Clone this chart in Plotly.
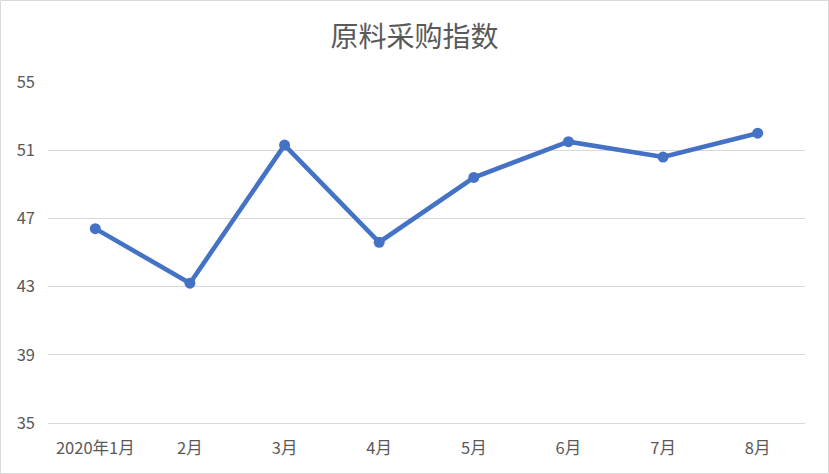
import plotly.graph_objects as go

categories = ["2020年1月", "2月", "3月", "4月", "5月", "6月", "7月", "8月"]
values = [46.4, 43.2, 51.3, 45.6, 49.4, 51.5, 50.6, 52.0]
y_ticks = [35, 39, 43, 47, 51, 55]
title_text = "原料采购指数"

W, H = 829, 474
ml, mr, mt, mb = 48, 24, 82, 51
pw, ph = W - ml - mr, H - mt - mb

fig = go.Figure()
fig.add_trace(go.Scatter(
    x=categories, y=values, mode="lines+markers",
    line=dict(color="#4472C4", width=4.6),
    marker=dict(color="#4472C4", size=11),
    showlegend=False, hoverinfo="x+y",
))

font_family = "Noto Sans CJK SC, Noto Sans, sans-serif"
fig.update_layout(
    width=W, height=H,
    margin=dict(l=ml, r=mr, t=mt, b=mb),
    paper_bgcolor="white", plot_bgcolor="white",
    title=dict(text=title_text, x=0.5, xanchor="center", y=1 - 37 / H, yanchor="middle",
               font=dict(family=font_family, size=28, color="#595959")),
    font=dict(family=font_family, color="#595959"),
    xaxis=dict(type="category", range=[-0.5, len(categories) - 0.5],
               showgrid=False, zeroline=False, showline=True, linecolor="#d9d9d9",
               linewidth=1.3,
               tickfont=dict(size=16.5, color="#595959"), ticks="", ticklabelstandoff=10),
    yaxis=dict(range=[35, 55], tickvals=y_ticks, showgrid=True, gridcolor="#d9d9d9",
               gridwidth=1.3, zeroline=False, showline=False,
               tickfont=dict(size=16.5, color="#595959"), ticks="", ticklabelstandoff=12),
    shapes=[dict(type="rect", xref="paper", yref="paper", layer="above",
                 x0=-ml / pw + 0.5 / pw, x1=(W - ml - 0.5) / pw,
                 y0=-mb / ph + 0.5 / ph, y1=(H - mb - 0.5) / ph,
                 line=dict(color="#d9d9d9", width=1))],
)

fig.write_html("out.html", config={"displayModeBar": False},
               post_script="document.body.style.margin='0';document.body.style.padding='0';")
